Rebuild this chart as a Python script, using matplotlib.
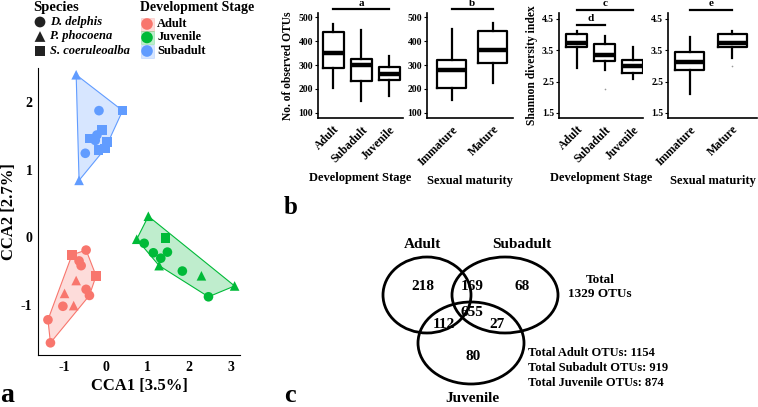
import numpy as np
import matplotlib
matplotlib.use("Agg")
import matplotlib.pyplot as plt
from matplotlib.patches import Ellipse, Rectangle, Polygon

plt.rcParams["font.family"] = ["Liberation Serif", "DejaVu Serif"]
plt.rcParams["font.weight"] = "bold"
plt.rcParams["axes.labelweight"] = "bold"

# ---- CCA ordination (panel a) ----
stages = ["Adult", "Juvenile", "Subadult"]
stage_colors = {"Adult": "#F8766D", "Juvenile": "#00BA38", "Subadult": "#619CFF"}
species = ["D. delphis", "P. phocoena", "S. coeruleoalba"]
species_markers = {"D. delphis": "o", "P. phocoena": "^", "S. coeruleoalba": "s"}

adult_x = [-0.48, -0.82, -0.65, -0.60, -0.24, -0.72, -0.48, -0.40, -1.00, -1.04, -0.78, -1.40, -1.34]
adult_y = [-0.19, -0.26, -0.35, -0.42, -0.57, -0.64, -0.77, -0.86, -0.83, -1.02, -1.01, -1.22, -1.56]
adult_sp = ["D. delphis", "S. coeruleoalba", "D. delphis", "D. delphis", "S. coeruleoalba", "P. phocoena",
            "D. delphis", "D. delphis", "P. phocoena", "D. delphis", "P. phocoena", "D. delphis", "D. delphis"]

juv_x = [1.02, 0.74, 1.43, 0.92, 1.14, 1.32, 1.48, 1.28, 1.84, 2.30, 3.10, 2.47]
juv_y = [0.31, -0.03, -0.01, -0.09, -0.23, -0.31, -0.22, -0.42, -0.50, -0.57, -0.72, -0.88]
juv_sp = ["P. phocoena", "P. phocoena", "S. coeruleoalba", "D. delphis", "D. delphis", "D. delphis",
          "D. delphis", "P. phocoena", "D. delphis", "P. phocoena", "P. phocoena", "D. delphis"]

sub_x = [-0.72, -0.65, 0.40, -0.17, -0.10, -0.40, -0.22, -0.26, 0.03, -0.50, -0.18, -0.02]
sub_y = [2.40, 0.84, 1.87, 1.87, 1.58, 1.46, 1.51, 1.43, 1.41, 1.24, 1.29, 1.31]
sub_sp = ["P. phocoena", "P. phocoena", "S. coeruleoalba", "D. delphis", "S. coeruleoalba", "S. coeruleoalba",
          "D. delphis", "D. delphis", "S. coeruleoalba", "D. delphis", "S. coeruleoalba", "S. coeruleoalba"]

cca_data = {"Adult": (adult_x, adult_y, adult_sp),
            "Juvenile": (juv_x, juv_y, juv_sp),
            "Subadult": (sub_x, sub_y, sub_sp)}

# ---- boxplots (panel b) ----
dev_labels = ["Adult", "Subadult", "Juvenile"]
mat_labels = ["Immature", "Mature"]
# whislo, q1, med, q3, whishi
otu_dev = [(205, 286, 352, 438, 472), (150, 234, 300, 324, 447), (171, 237, 262, 293, 339)]
otu_mat = [(153, 206, 279, 321, 452), (225, 307, 363, 440, 475)]
sha_dev = [(2.93, 3.59, 3.73, 4.02, 4.10), (2.87, 3.16, 3.35, 3.69, 3.96), (2.57, 2.79, 3.00, 3.19, 3.62)]
sha_dev_fliers = [[], [2.25], []]
sha_mat = [(2.10, 2.87, 3.14, 3.46, 3.94), (3.25, 3.62, 3.73, 4.03, 4.10)]
sha_mat_fliers = [[], [3.00]]

# ---- Venn (panel c) ----
venn_counts = {"A": 218, "AS": 169, "S": 68, "ASJ": 655, "AJ": 112, "SJ": 27, "J": 80}
total_otus = 1329
totals = [("Adult", 1154), ("Subadult", 919), ("Juvenile", 874)]

W, H = 758, 407
fig = plt.figure(figsize=(W / 100, H / 100), dpi=100)


def px_axes(l, t, r, b):
    return fig.add_axes([l / W, 1 - b / H, (r - l) / W, (b - t) / H])


def hull(pts):
    pts = sorted(set(pts))
    def cross(o, a, b):
        return (a[0] - o[0]) * (b[1] - o[1]) - (a[1] - o[1]) * (b[0] - o[0])
    lower, upper = [], []
    for p in pts:
        while len(lower) >= 2 and cross(lower[-2], lower[-1], p) <= 0:
            lower.pop()
        lower.append(p)
    for p in reversed(pts):
        while len(upper) >= 2 and cross(upper[-2], upper[-1], p) <= 0:
            upper.pop()
        upper.append(p)
    return lower[:-1] + upper[:-1]


# panel a
ax = px_axes(38, 68, 240, 355)
for st in stages:
    xs, ys, sps = cca_data[st]
    c = stage_colors[st]
    hp = hull(list(zip(xs, ys)))
    ax.add_patch(Polygon(hp, closed=True, facecolor=c, alpha=0.25, edgecolor="none"))
    ax.add_patch(Polygon(hp, closed=True, facecolor="none", edgecolor=c, lw=0.8))
    for sp in species:
        idx = [i for i, s in enumerate(sps) if s == sp]
        ax.scatter([xs[i] for i in idx], [ys[i] for i in idx], marker=species_markers[sp],
                   s=48, color=c, edgecolors="none", zorder=3)
ax.set_xlim(-1.64, 3.23)
ax.set_ylim(-1.74, 2.5)
ax.set_xticks([-1, 0, 1, 2, 3])
ax.set_yticks([-1, 0, 1, 2])
ax.set_xticklabels(["-1", "0", "1", "2", "3"])
ax.set_yticklabels(["-1", "0", "1", "2"])
for s in ["top", "right"]:
    ax.spines[s].set_visible(False)
ax.tick_params(labelsize=10, length=0, pad=4)
for lab in ax.get_xticklabels() + ax.get_yticklabels():
    lab.set_fontweight("bold")
ax.set_xlabel("CCA1 [3.5%]", fontsize=12, labelpad=3)
ax.set_ylabel("CCA2 [2.7%]", fontsize=12, labelpad=3)


def boxpanel(l, r, stats, labels, xlim, ylim, yticks, ytl, widths, fliers=None):
    a = px_axes(l, 13, r, 118)
    bs = []
    for i, (lo, q1, med, q3, hi) in enumerate(stats):
        bs.append(dict(whislo=lo, q1=q1, med=med, q3=q3, whishi=hi,
                       fliers=fliers[i] if fliers else []))
    a.bxp(bs, positions=list(range(1, len(stats) + 1)), widths=widths, showcaps=False,
          boxprops=dict(lw=1.6, color="black"), whiskerprops=dict(lw=1.6, color="black"),
          medianprops=dict(lw=3.2, color="black"),
          flierprops=dict(marker="o", markersize=1.2, markerfacecolor="#999999", markeredgecolor="none"))
    a.set_xlim(*xlim)
    a.set_ylim(*ylim)
    a.set_yticks(yticks)
    a.set_yticklabels(ytl, fontsize=7, fontweight="bold")
    a.set_xticks(range(1, len(labels) + 1))
    a.set_xticklabels(labels, rotation=45, ha="right", rotation_mode="anchor", fontsize=8.5, fontweight="bold")
    a.tick_params(axis="x", length=0, pad=4)
    a.tick_params(axis="y", length=2, pad=1.5)
    for s in ["top", "right"]:
        a.spines[s].set_visible(False)
    a.spines["left"].set_linewidth(1.2)
    a.spines["bottom"].set_linewidth(1.2)
    return a


def sigbar(a, x0, x1, y, ytext, label):
    a.plot([x0, x1], [y, y], color="black", lw=1.6, clip_on=False)
    a.text((x0 + x1) / 2, ytext, label, ha="center", va="center", fontsize=8, fontweight="bold")


otu_ticks = [100, 200, 300, 400, 500]
sha_ticks = [1.5, 2.5, 3.5, 4.5]

b1 = boxpanel(318, 403, otu_dev, dev_labels, (0.45, 3.5), (79, 517), otu_ticks,
              [str(t) for t in otu_ticks], 0.75)
b1.set_ylabel("No. of observed OTUs", fontsize=8.3, labelpad=3)
b1.set_xlabel("Development Stage", fontsize=9, labelpad=5)
sigbar(b1, 1, 3, 533, 555, "a")

b2 = boxpanel(427, 513, otu_mat, mat_labels, (0.4, 2.5), (79, 517), otu_ticks,
              [str(t) for t in otu_ticks], 0.69)
b2.set_xlabel("Sexual maturity", fontsize=9, labelpad=5)
sigbar(b2, 1, 2, 533, 555, "b")

b3 = boxpanel(559, 643, sha_dev, dev_labels, (0.36, 3.36), (1.34, 4.69), sha_ticks,
              [str(t) for t in sha_ticks], 0.75, sha_dev_fliers)
b3.set_ylabel("Shannon diversity index", fontsize=8.3, labelpad=3)
b3.set_xlabel("Development Stage", fontsize=9, labelpad=5)
sigbar(b3, 1, 3, 4.79, 4.98, "c")
sigbar(b3, 1, 2, 4.31, 4.5, "d")

b4 = boxpanel(668, 757, sha_mat, mat_labels, (0.49, 2.58), (1.34, 4.69), sha_ticks,
              [str(t) for t in sha_ticks], 0.69, sha_mat_fliers)
b4.set_xlabel("Sexual maturity", fontsize=9, labelpad=5)
sigbar(b4, 1, 2, 4.79, 4.98, "e")

# overlay for legend, venn and panel letters (pixel coordinates)
ov = fig.add_axes([0, 0, 1, 1], zorder=-1)
ov.set_xlim(0, W)
ov.set_ylim(H, 0)
ov.axis("off")

# species legend
ov.text(33, 8, "Species", fontsize=10.5, fontweight="bold", va="center")
for i, sp in enumerate(species):
    y = 22 + i * 14.5
    ov.scatter([40], [y], marker=species_markers[sp], s=60, color="#222222", edgecolors="none")
    ov.text(50, y, sp, fontsize=9, fontstyle="italic", fontweight="bold", va="center")

# development stage legend
ov.text(140, 8, "Development Stage", fontsize=10, fontweight="bold", va="center")
for i, st in enumerate(stages):
    y = 24 + i * 13.5
    c = stage_colors[st]
    ov.add_patch(Rectangle((140.5, y - 6.5), 13, 13, facecolor=c, alpha=0.25, edgecolor=c, lw=0.6))
    ov.scatter([147], [y], marker="o", s=70, color=c, edgecolors="none")
    ov.text(157, y, st, fontsize=9, fontweight="bold", va="center")

# venn
for (cx, cy, rx, ry) in [(427, 295, 44, 38), (505, 295, 53, 38), (471, 343, 53, 41)]:
    ov.add_patch(Ellipse((cx, cy), 2 * rx, 2 * ry, facecolor="none", edgecolor="black", lw=2))
vpos = {"A": (423, 287), "AS": (472, 287), "S": (522, 287), "ASJ": (472, 312),
        "AJ": (444, 324), "SJ": (497, 324), "J": (473, 357)}
for k, (x, y) in vpos.items():
    ov.text(x, y, str(venn_counts[k]), fontsize=11, fontweight="bold", ha="center", va="center")
ov.text(423, 245, "Adult", fontsize=11, fontweight="bold", ha="center", va="center")
ov.text(522, 245, "Subadult", fontsize=11, fontweight="bold", ha="center", va="center")
ov.text(472, 398, "Juvenile", fontsize=11, fontweight="bold", ha="center", va="center")
ov.text(600, 280, "Total", fontsize=9.5, fontweight="bold", ha="center", va="center")
ov.text(600, 294, f"{total_otus} OTUs", fontsize=9.5, fontweight="bold", ha="center", va="center")
for i, (name, n) in enumerate(totals):
    ov.text(528, 353 + i * 15, f"Total {name} OTUs: {n}", fontsize=9, fontweight="bold", va="center")

# panel letters
ov.text(7, 396, "a", fontsize=20, fontweight="bold", ha="center", va="center")
ov.text(291, 207, "b", fontsize=18, fontweight="bold", ha="center", va="center")
ov.text(290, 395, "c", fontsize=19, fontweight="bold", ha="center", va="center")

fig.savefig("out.png", dpi=100)
